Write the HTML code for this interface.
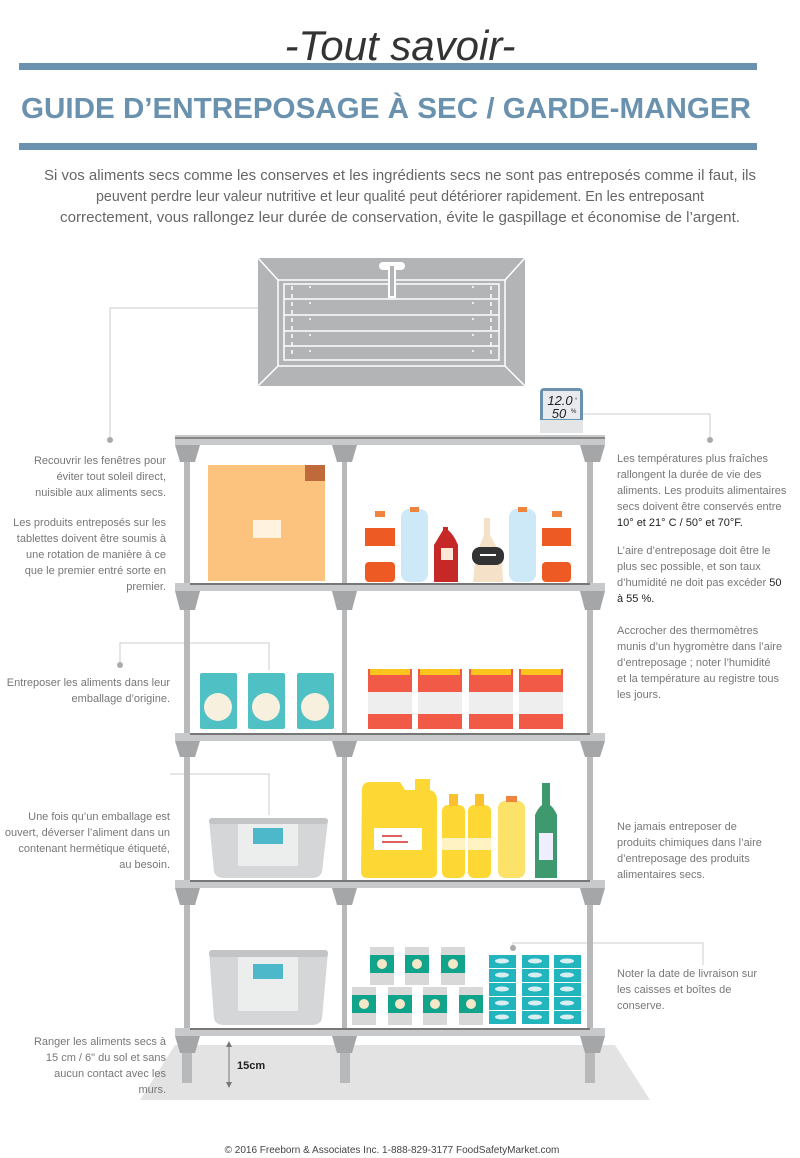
<!DOCTYPE html>
<html><head><meta charset="utf-8"><style>
html,body{margin:0;padding:0;background:#fff;}
svg{display:block;}
text{font-family:"Liberation Sans",sans-serif;}
</style></head><body>
<svg width="800" height="1158" viewBox="0 0 800 1158" xmlns="http://www.w3.org/2000/svg">
<text x="400" y="60" text-anchor="middle" font-family="Liberation Serif" font-style="italic" font-size="42" fill="#333">-Tout savoir-</text>
<rect x="19" y="63" width="738" height="7" fill="#6a91ad"/>
<text x="386" y="118" text-anchor="middle" font-size="29" font-weight="bold" fill="#6a91ad" textLength="730" lengthAdjust="spacingAndGlyphs">GUIDE D’ENTREPOSAGE À SEC / GARDE-MANGER</text>
<rect x="19" y="143" width="738" height="7" fill="#6a91ad"/>
<g font-size="15" fill="#666" text-anchor="middle">
<text x="400" y="180" textLength="712" lengthAdjust="spacingAndGlyphs">Si vos aliments secs comme les conserves et les ingrédients secs ne sont pas entreposés comme il faut, ils</text>
<text x="400" y="201" textLength="608" lengthAdjust="spacingAndGlyphs">peuvent perdre leur valeur nutritive et leur qualité peut détériorer rapidement. En les entreposant</text>
<text x="400" y="222" textLength="680" lengthAdjust="spacingAndGlyphs">correctement, vous rallongez leur durée de conservation, évite le gaspillage et économise de l’argent.</text>
</g>
<rect x="258" y="258" width="267" height="128" fill="#b3b4b6"/>
<g stroke="#fff" stroke-width="1.5" fill="none">
<line x1="258" y1="258" x2="278" y2="280"/><line x1="525" y1="258" x2="505" y2="280"/>
<line x1="258" y1="386" x2="278" y2="366"/><line x1="525" y1="386" x2="505" y2="366"/>
<rect x="278" y="280" width="227" height="86"/>
<rect x="284" y="284" width="215" height="76"/>
<line x1="284" y1="299" x2="499" y2="299"/><line x1="284" y1="315" x2="499" y2="315"/>
<line x1="284" y1="331" x2="499" y2="331"/><line x1="284" y1="346" x2="499" y2="346"/>
<line x1="292" y1="286" x2="292" y2="358" stroke-dasharray="4 4"/>
<line x1="310" y1="286" x2="310" y2="358" stroke-dasharray="2 14"/>
<line x1="473" y1="286" x2="473" y2="358" stroke-dasharray="2 14"/>
<line x1="491" y1="286" x2="491" y2="358" stroke-dasharray="4 4"/>
</g>
<rect x="379" y="262" width="26" height="8" rx="4" fill="#fff"/>
<rect x="388" y="264" width="8" height="34" fill="#fff"/><rect x="390" y="266" width="4" height="30" fill="#b3b4b6"/>
<g stroke="#ccc" stroke-width="1" fill="none">
<polyline points="110,440 110,308 258,308"/>
<polyline points="583,414 710,414 710,440"/>
<polyline points="120,665 120,643 269,643 269,670"/>
<polyline points="170,774 269,774 269,815"/>
<polyline points="513,948 513,943 703,943 703,965"/>
</g>
<g fill="#aaa"><circle cx="110" cy="440" r="3"/><circle cx="710" cy="440" r="3"/><circle cx="120" cy="665" r="3"/><circle cx="513" cy="948" r="3"/></g>
<rect x="540" y="388" width="43" height="45" rx="4" fill="#6a91ad"/>
<rect x="540" y="420" width="43" height="13" fill="#e4e5e7"/>
<rect x="543" y="391" width="37" height="28" fill="#e8eaee"/>
<text x="560" y="405" text-anchor="middle" font-size="13" font-style="italic" fill="#222">12.0</text>
<text x="559" y="418" text-anchor="middle" font-size="13" font-style="italic" fill="#222">50</text>
<text x="575" y="402" font-size="6" fill="#222">°</text><text x="571" y="413" font-size="6" fill="#222">%</text>
<polygon points="175,1045 615,1045 650,1100 140,1100" fill="#e3e3e3"/>
<g fill="#b8b9bb">
<rect x="184" y="445" width="6" height="600"/><rect x="342" y="445" width="5" height="590"/><rect x="587" y="445" width="6" height="600"/>
<rect x="182" y="1045" width="10" height="38"/><rect x="340" y="1045" width="10" height="38"/><rect x="585" y="1045" width="10" height="38"/>
</g>
<g>
<rect x="175" y="435" width="430" height="10" fill="#c8c9cb"/><rect x="175" y="437" width="430" height="2" fill="#888"/>
<rect x="175" y="583" width="430" height="8" fill="#c8c9cb"/><rect x="190" y="583" width="400" height="2" fill="#777"/>
<rect x="175" y="733" width="430" height="8" fill="#c8c9cb"/><rect x="190" y="733" width="400" height="2" fill="#777"/>
<rect x="175" y="880" width="430" height="8" fill="#c8c9cb"/><rect x="190" y="880" width="400" height="2" fill="#777"/>
<rect x="175" y="1028" width="430" height="8" fill="#c8c9cb"/><rect x="190" y="1028" width="400" height="2" fill="#777"/>
</g>
<g fill="#a5a6a8">
<polygon points="175,445 200,445 195,462 180,462"/><polygon points="332,445 357,445 352,462 337,462"/><polygon points="580,445 605,445 600,462 585,462"/>
<polygon points="175,591 200,591 195,610 180,610"/><polygon points="332,591 357,591 352,610 337,610"/><polygon points="580,591 605,591 600,610 585,610"/>
<polygon points="175,741 200,741 195,757 180,757"/><polygon points="332,741 357,741 352,757 337,757"/><polygon points="580,741 605,741 600,757 585,757"/>
<polygon points="175,888 200,888 195,905 180,905"/><polygon points="332,888 357,888 352,905 337,905"/><polygon points="580,888 605,888 600,905 585,905"/>
<polygon points="175,1036 200,1036 195,1053 180,1053"/><polygon points="332,1036 357,1036 352,1053 337,1053"/><polygon points="580,1036 605,1036 600,1053 585,1053"/>
</g>
<rect x="208" y="465" width="117" height="116" fill="#fcc37e"/>
<rect x="305" y="465" width="20" height="16" fill="#c0693b"/>
<rect x="253" y="520" width="28" height="18" fill="#fff3e0"/>
<g>
<rect x="365" y="512" width="30" height="70" rx="8" fill="#fff"/><rect x="365" y="528" width="30" height="18" fill="#ee5a24"/><rect x="365" y="562" width="30" height="20" rx="4" fill="#ee5a24"/><rect x="375" y="511" width="10" height="6" fill="#f0843c"/>
<rect x="401" y="509" width="27" height="73" rx="8" fill="#cde8f6"/><rect x="410" y="507" width="9" height="5" fill="#f0843c"/>
<path d="M434,582 L434,545 Q440,535 443,530 L443,527 L448,527 L448,530 Q454,535 458,545 L458,582 Z" fill="#c62828"/><rect x="441" y="548" width="12" height="12" fill="#fde8d8"/>
<path d="M473,582 L475,560 Q480,545 484,535 L484,518 L490,518 L490,535 Q496,545 502,560 L503,582 Z" fill="#f5e1c8"/><rect x="472" y="547" width="32" height="18" rx="8" fill="#333"/><rect x="480" y="554" width="16" height="2" fill="#fff"/>
<rect x="509" y="509" width="27" height="73" rx="8" fill="#cde8f6"/><rect x="518" y="507" width="9" height="5" fill="#f0843c"/>
<rect x="542" y="512" width="29" height="70" rx="8" fill="#fff"/><rect x="542" y="528" width="29" height="18" fill="#ee5a24"/><rect x="542" y="562" width="29" height="20" rx="4" fill="#ee5a24"/><rect x="552" y="511" width="10" height="6" fill="#f0843c"/>
</g>
<g fill="#4fc1c4">
<rect x="200" y="673" width="37" height="56" rx="2"/><rect x="248" y="673" width="37" height="56" rx="2"/><rect x="297" y="673" width="37" height="56" rx="2"/>
</g>
<g fill="#f7f0de"><circle cx="218" cy="707" r="14"/><circle cx="266" cy="707" r="14"/><circle cx="315" cy="707" r="14"/></g>
<g>
<rect x="368" y="669" width="44" height="60" fill="#f15a47"/><rect x="368" y="692" width="44" height="22" fill="#eee"/><rect x="370" y="669" width="40" height="6" fill="#fcc41e"/>
<rect x="418" y="669" width="44" height="60" fill="#f15a47"/><rect x="418" y="692" width="44" height="22" fill="#eee"/><rect x="420" y="669" width="40" height="6" fill="#fcc41e"/>
<rect x="469" y="669" width="44" height="60" fill="#f15a47"/><rect x="469" y="692" width="44" height="22" fill="#eee"/><rect x="471" y="669" width="40" height="6" fill="#fcc41e"/>
<rect x="519" y="669" width="44" height="60" fill="#f15a47"/><rect x="519" y="692" width="44" height="22" fill="#eee"/><rect x="521" y="669" width="40" height="6" fill="#fcc41e"/>
</g>
<path d="M209,820 L328,820 L322,872 Q320,878 312,878 L224,878 Q216,878 214,872 Z" fill="#d5d6d8"/>
<rect x="209" y="818" width="119" height="6" rx="3" fill="#c3c4c6"/>
<rect x="238" y="824" width="60" height="42" fill="#eceded"/><rect x="253" y="828" width="30" height="16" fill="#4cb8c9"/>
<path d="M362,790 Q362,782 370,782 L400,782 L405,790 L415,790 L415,779 L430,779 L430,790 Q437,792 437,800 L437,872 Q437,878 430,878 L368,878 Q361,878 361,872 Z" fill="#fdd835"/>
<rect x="374" y="828" width="48" height="22" fill="#fff"/><rect x="382" y="835" width="20" height="2" fill="#e06060"/><rect x="382" y="841" width="26" height="2" fill="#e06060"/>
<rect x="442" y="805" width="23" height="73" rx="6" fill="#fdd835"/><rect x="442" y="838" width="23" height="12" fill="#fff3c4"/><rect x="449" y="794" width="9" height="12" fill="#fbc02d"/>
<rect x="468" y="805" width="23" height="73" rx="6" fill="#fdd835"/><rect x="468" y="838" width="23" height="12" fill="#fff3c4"/><rect x="475" y="794" width="9" height="12" fill="#fbc02d"/>
<rect x="498" y="801" width="27" height="77" rx="7" fill="#fde26a"/><rect x="506" y="796" width="11" height="6" fill="#f0843c"/>
<path d="M535,878 L535,815 Q538,808 542,805 L542,783 L550,783 L550,805 Q554,808 557,815 L557,878 Z" fill="#3e9a6e"/><rect x="539" y="833" width="14" height="27" fill="#eef"/>
<path d="M209,952 L328,952 L322,1019 Q320,1025 312,1025 L224,1025 Q216,1025 214,1019 Z" fill="#d5d6d8"/>
<rect x="209" y="950" width="119" height="7" rx="3" fill="#c3c4c6"/>
<rect x="238" y="957" width="60" height="54" fill="#eceded"/><rect x="253" y="964" width="30" height="15" fill="#4cb8c9"/>
<g fill="#d8d8d8">
<rect x="370" y="947" width="24" height="38"/><rect x="405" y="947" width="24" height="38"/><rect x="441" y="947" width="24" height="38"/>
<rect x="352" y="987" width="24" height="38"/><rect x="388" y="987" width="24" height="38"/><rect x="423" y="987" width="24" height="38"/><rect x="459" y="987" width="24" height="38"/>
</g>
<g fill="#12a48a">
<rect x="370" y="955" width="24" height="18"/><rect x="405" y="955" width="24" height="18"/><rect x="441" y="955" width="24" height="18"/>
<rect x="352" y="995" width="24" height="18"/><rect x="388" y="995" width="24" height="18"/><rect x="423" y="995" width="24" height="18"/><rect x="459" y="995" width="24" height="18"/>
</g>
<g fill="#f5e8c8">
<circle cx="382" cy="964" r="5"/><circle cx="417" cy="964" r="5"/><circle cx="453" cy="964" r="5"/>
<circle cx="364" cy="1004" r="5"/><circle cx="400" cy="1004" r="5"/><circle cx="435" cy="1004" r="5"/><circle cx="471" cy="1004" r="5"/>
</g>
<g fill="#22b5bd">
<rect x="489" y="955" width="27" height="13"/><rect x="522" y="955" width="27" height="13"/><rect x="554" y="955" width="27" height="13"/>
<rect x="489" y="969" width="27" height="13"/><rect x="522" y="969" width="27" height="13"/><rect x="554" y="969" width="27" height="13"/>
<rect x="489" y="983" width="27" height="13"/><rect x="522" y="983" width="27" height="13"/><rect x="554" y="983" width="27" height="13"/>
<rect x="489" y="997" width="27" height="13"/><rect x="522" y="997" width="27" height="13"/><rect x="554" y="997" width="27" height="13"/>
<rect x="489" y="1011" width="27" height="13"/><rect x="522" y="1011" width="27" height="13"/><rect x="554" y="1011" width="27" height="13"/>
</g>
<g fill="#d8eef0">
<ellipse cx="502" cy="961" rx="7" ry="2.5"/><ellipse cx="535" cy="961" rx="7" ry="2.5"/><ellipse cx="567" cy="961" rx="7" ry="2.5"/>
<ellipse cx="502" cy="975" rx="7" ry="2.5"/><ellipse cx="535" cy="975" rx="7" ry="2.5"/><ellipse cx="567" cy="975" rx="7" ry="2.5"/>
<ellipse cx="502" cy="989" rx="7" ry="2.5"/><ellipse cx="535" cy="989" rx="7" ry="2.5"/><ellipse cx="567" cy="989" rx="7" ry="2.5"/>
<ellipse cx="502" cy="1003" rx="7" ry="2.5"/><ellipse cx="535" cy="1003" rx="7" ry="2.5"/><ellipse cx="567" cy="1003" rx="7" ry="2.5"/>
<ellipse cx="502" cy="1017" rx="7" ry="2.5"/><ellipse cx="535" cy="1017" rx="7" ry="2.5"/><ellipse cx="567" cy="1017" rx="7" ry="2.5"/>
</g>
<line x1="229" y1="1045" x2="229" y2="1085" stroke="#777" stroke-width="1"/>
<polygon points="229,1041 226,1047 232,1047" fill="#777"/><polygon points="229,1088 226,1082 232,1082" fill="#777"/>
<text x="237" y="1069" font-size="11" font-weight="bold" fill="#222">15cm</text>
<g font-size="11" fill="#777" text-anchor="end">
<text x="166" y="464">Recouvrir les fenêtres pour</text>
<text x="166" y="480">éviter tout soleil direct,</text>
<text x="166" y="496">nuisible aux aliments secs.</text>
<text x="166" y="526">Les produits entreposés sur les</text>
<text x="166" y="542">tablettes doivent être soumis à</text>
<text x="166" y="558">une rotation de manière à ce</text>
<text x="166" y="574">que le premier entré sorte en</text>
<text x="166" y="590">premier.</text>
<text x="170" y="686">Entreposer les aliments dans leur</text>
<text x="170" y="702">emballage d’origine.</text>
<text x="170" y="820">Une fois qu’un emballage est</text>
<text x="170" y="836">ouvert, déverser l’aliment dans un</text>
<text x="170" y="852">contenant hermétique étiqueté,</text>
<text x="170" y="868">au besoin.</text>
<text x="166" y="1045">Ranger les aliments secs à</text>
<text x="166" y="1061">15 cm / 6" du sol et sans</text>
<text x="166" y="1077">aucun contact avec les</text>
<text x="166" y="1093">murs.</text>
</g>
<g font-size="11" fill="#777">
<text x="617" y="462">Les températures plus fraîches</text>
<text x="617" y="478">rallongent la durée de vie des</text>
<text x="617" y="494">aliments. Les produits alimentaires</text>
<text x="617" y="510">secs doivent être conservés entre</text>
<text x="617" y="526" fill="#222">10° et 21° C / 50° et 70°F.</text>
<text x="617" y="554">L’aire d’entreposage doit être le</text>
<text x="617" y="570">plus sec possible, et son taux</text>
<text x="617" y="586">d’humidité ne doit pas excéder <tspan fill="#222">50</tspan></text>
<text x="617" y="602" fill="#222">à 55 %.</text>
<text x="617" y="634">Accrocher des thermomètres</text>
<text x="617" y="650">munis d’un hygromètre dans l’aire</text>
<text x="617" y="666">d’entreposage ; noter l’humidité</text>
<text x="617" y="682">et la température au registre tous</text>
<text x="617" y="698">les jours.</text>
<text x="617" y="830">Ne jamais entreposer de</text>
<text x="617" y="846">produits chimiques dans l’aire</text>
<text x="617" y="862">d’entreposage des produits</text>
<text x="617" y="878">alimentaires secs.</text>
<text x="617" y="977">Noter la date de livraison sur</text>
<text x="617" y="993">les caisses et boîtes de</text>
<text x="617" y="1009">conserve.</text>
</g>
<text x="392" y="1153" text-anchor="middle" font-size="10" fill="#444">© 2016 Freeborn &amp; Associates Inc. 1-888-829-3177 FoodSafetyMarket.com</text>
</svg>
</body></html>
